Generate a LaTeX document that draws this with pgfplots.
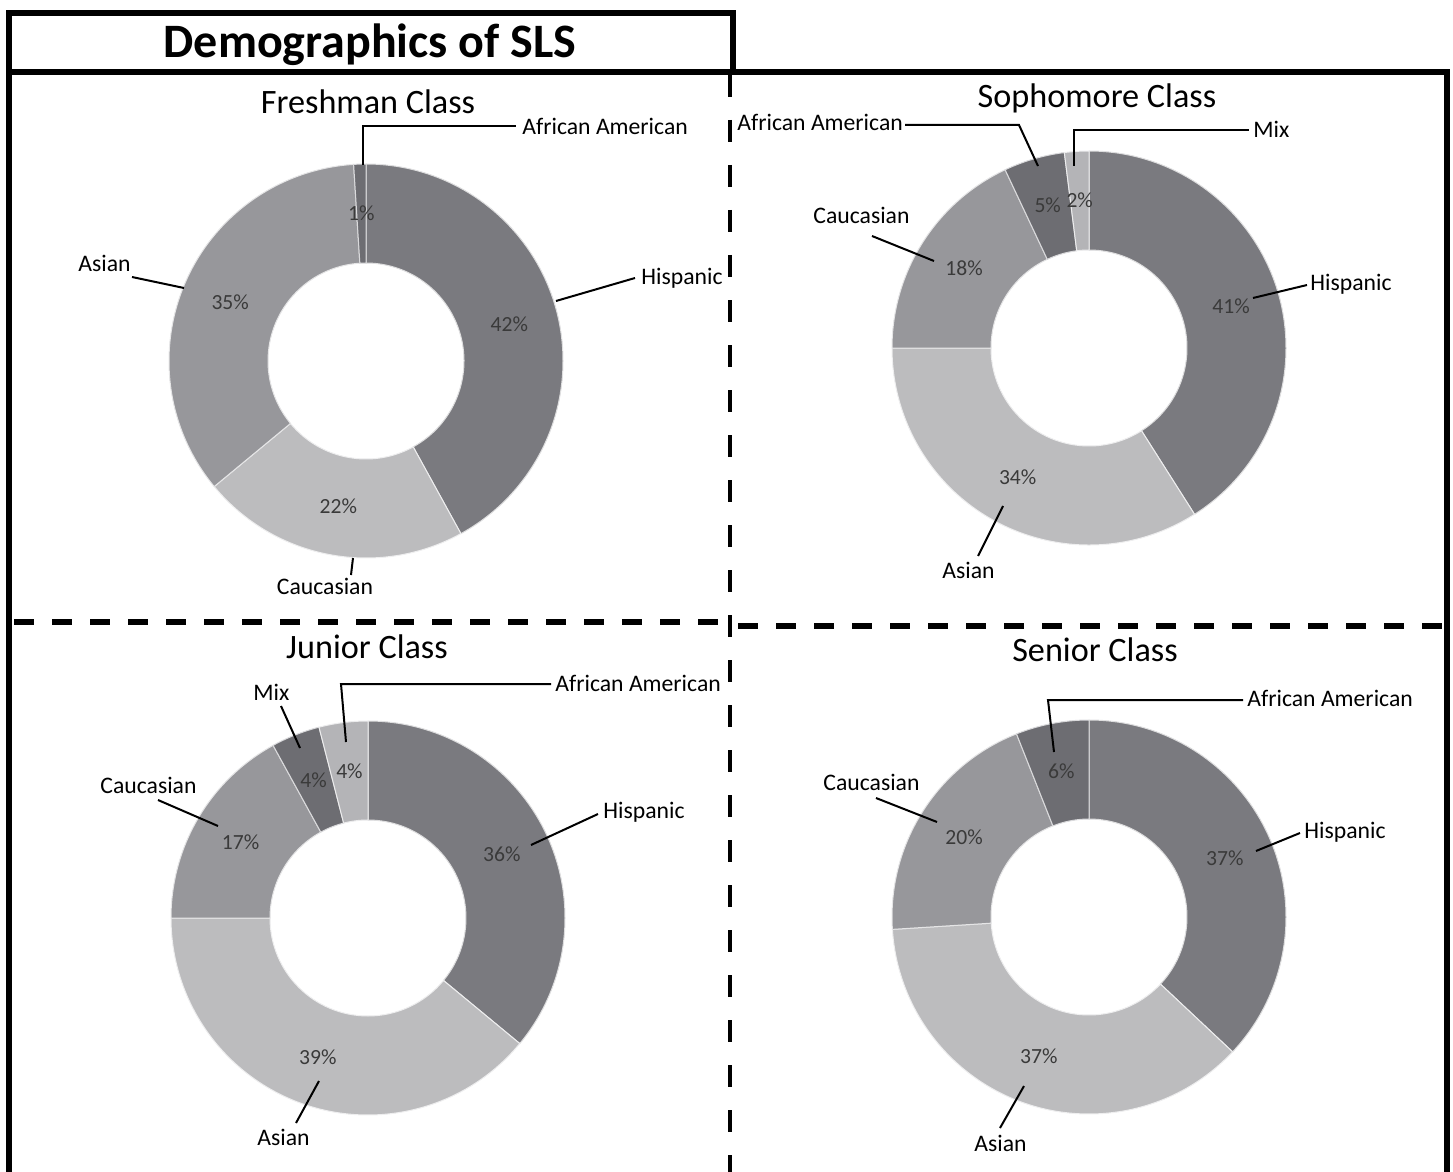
\documentclass[border=0pt]{standalone}
\usepackage{fontspec}
\setmainfont{Carlito}
\usepackage{pgfplots}
\pgfplotsset{compat=1.18}
\definecolor{hisp}{HTML}{7A7A7F}
\definecolor{dark}{HTML}{6D6D72}
\definecolor{mid}{HTML}{97979B}
\definecolor{light}{HTML}{BCBCBE}
\definecolor{lighter}{HTML}{B4B4B7}
\definecolor{pcttext}{HTML}{3A3A3A}
\tikzset{
  pct/.style={font=\fontsize{10.8}{12}\selectfont, text=pcttext, inner sep=0pt, text height=7pt, text depth=0pt},
  lab/.style={font=\fontsize{11.85}{14}\selectfont, inner sep=0pt, text height=7.6pt, text depth=0pt},
  ttl/.style={font=\fontsize{17.1}{20}\selectfont, inner sep=0pt, text height=11pt, text depth=0pt},
  lead/.style={line width=1pt},
}
% #1,#2: centre (pt, y downwards negative), #3: list value/colour, clockwise from the top
\newcommand\donut[3]{%
\begin{axis}[at={(#1,#2)},anchor=center,hide axis,scale only axis,
  x=0.5pt,y=0.5pt,xmin=-200,xmax=200,ymin=-200,ymax=200,clip=false]
\addplot[draw=none,forget plot] coordinates {(0,0)};
\pgfplotsextra{%
 \gdef\cum{0}%
 \foreach \v/\col in {#3}{%
   \pgfmathsetmacro\sa{90-3.6*\cum}%
   \pgfmathsetmacro\sb{90-3.6*(\cum+\v)}%
   \filldraw[fill=\col, draw=white!75!\col, line width=0.5pt, line join=round]
      (axis cs:0,0) ++(\sa:98.5pt) arc[start angle=\sa,end angle=\sb,radius=98.5pt]
      -- ++(\sb:-49.5pt) arc[start angle=\sb,end angle=\sa,radius=49pt] -- cycle;
   \pgfmathsetmacro\nc{\cum+\v}\global\let\cum\nc
 }%
 \gdef\cum{0}%
 \foreach \v/\col in {#3}{%
   \pgfmathsetmacro\sm{90-3.6*(\cum+\v/2)}%
   \path (axis cs:0,0) ++(\sm:74pt) node[pct]{\v\%};
   \pgfmathsetmacro\nc{\cum+\v}\global\let\cum\nc
 }%
}
\end{axis}}
\begin{document}
\begin{tikzpicture}[x=0.5pt,y=-0.5pt]
\useasboundingbox (0,0) rectangle (1453,1172);
% frames
\draw[line width=3pt] (9,1180) -- (9,13) -- (733,13) -- (733,72);
\draw[line width=3pt] (6,72) -- (1447,72) -- (1447,1180);
\draw[line width=2.4pt, dash pattern=on 11pt off 11.5pt] (730,75) -- (730,1180);
\draw[line width=3pt, dash pattern=on 10pt off 9pt] (14,622) -- (724,622);
\draw[line width=3pt, dash pattern=on 10pt off 9pt] (738,626) -- (1447,626);
\node[font=\bfseries\fontsize{24}{28}\selectfont, inner sep=0pt, text height=15.5pt, text depth=0pt] at (370,42) {Demographics of SLS};

% Freshman
\donut{183pt}{-180.5pt}{42/hisp,22/light,35/mid,1/dark}
\node[ttl] at (368,103) {Freshman Class};
\draw[lead] (363,165) -- (363,126) -- (516,126);
\node[lab,anchor=west] at (522,127) {African American};
\draw[lead] (556,301) -- (635,278);
\node[lab,anchor=west] at (641,277) {Hispanic};
\draw[lead] (132,277) -- (184,288);
\node[lab,anchor=west] at (78,264) {Asian};
\draw[lead] (353,558) -- (351,575);
\node[lab] at (325,587) {Caucasian};

% Sophomore
\donut{544.5pt}{-174pt}{41/hisp,34/light,18/mid,5/dark,2/lighter}
\node[ttl] at (1097,97) {Sophomore Class};
\draw[lead] (905,125) -- (1019,125) -- (1038,166);
\node[lab,anchor=west] at (737,123) {African American};
\draw[lead] (1074,166) -- (1074,130) -- (1249,130);
\node[lab,anchor=west] at (1253,130) {Mix};
\draw[lead] (872,236) -- (934,261);
\node[lab,anchor=west] at (813,216) {Caucasian};
\draw[lead] (1253,298) -- (1307,285);
\node[lab,anchor=west] at (1310,283) {Hispanic};
\draw[lead] (978,556) -- (1003,506);
\node[lab,anchor=west] at (942,571) {Asian};

% Junior
\donut{184pt}{-459pt}{36/hisp,39/light,17/mid,4/dark,4/lighter}
\node[ttl] at (367,647) {Junior Class};
\draw[lead] (281,706) -- (300,748);
\node[lab,anchor=west] at (253,693) {Mix};
\draw[lead] (346,742) -- (341,684) -- (551,684);
\node[lab,anchor=west] at (555,684) {African American};
\draw[lead] (158,800) -- (218,826);
\node[lab,anchor=west] at (100,786) {Caucasian};
\draw[lead] (531,845) -- (598,814);
\node[lab,anchor=west] at (603,811) {Hispanic};
\draw[lead] (296,1123) -- (319,1081);
\node[lab,anchor=west] at (257,1138) {Asian};

% Senior
\donut{544.5pt}{-458.5pt}{37/hisp,37/light,20/mid,6/dark}
\node[ttl] at (1095,650) {Senior Class};
\draw[lead] (1054,752) -- (1048,700) -- (1243,700);
\node[lab,anchor=west] at (1247,699) {African American};
\draw[lead] (876,798) -- (937,822);
\node[lab,anchor=west] at (823,783) {Caucasian};
\draw[lead] (1256,851) -- (1300,833);
\node[lab,anchor=west] at (1304,831) {Hispanic};
\draw[lead] (1000,1128) -- (1024,1086);
\node[lab,anchor=west] at (974,1144) {Asian};
\end{tikzpicture}
\end{document}
